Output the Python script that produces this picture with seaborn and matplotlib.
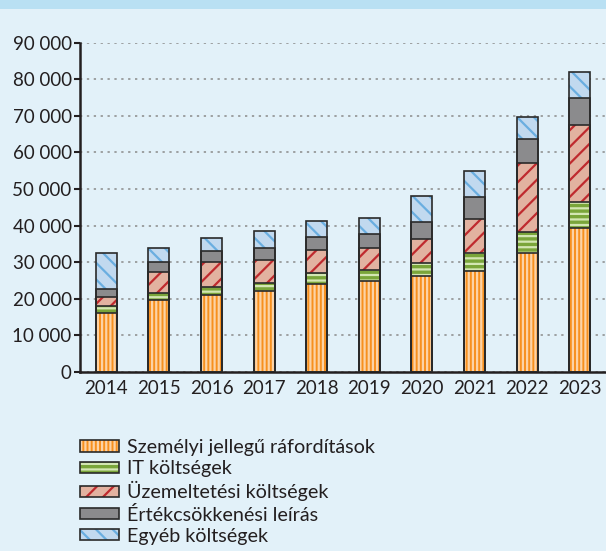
import numpy as np
import pandas as pd
import matplotlib.pyplot as plt
import seaborn as sns
from matplotlib.patches import Patch
from matplotlib.legend_handler import HandlerTuple
from matplotlib.ticker import FuncFormatter, MultipleLocator

# ===============================
# Data (million HUF)
# ===============================
years = ["2014", "2015", "2016", "2017", "2018", "2019", "2020", "2021", "2022", "2023"]
szemelyi = [16200, 19600, 21000, 22200, 24000, 24800, 26100, 27600, 32500, 39300]
it_koltseg = [1700, 1900, 2200, 2200, 3000, 3100, 3600, 4900, 5700, 7100]
uzemeltetes = [2700, 5900, 6900, 6200, 6400, 6100, 6600, 9400, 19000, 21100]
ertekcsokkenes = [2100, 2700, 3000, 3200, 3400, 3600, 4700, 5800, 6400, 7300]
egyeb = [9900, 3900, 3400, 4600, 4500, 4500, 7200, 7200, 6200, 7300]

labels = ["Személyi jellegű ráfordítások", "IT költségek", "Üzemeltetési költségek",
          "Értékcsökkenési leírás", "Egyéb költségek"]

df = pd.DataFrame({"year": years, labels[0]: szemelyi, labels[1]: it_koltseg,
                   labels[2]: uzemeltetes, labels[3]: ertekcsokkenes, labels[4]: egyeb})

# face colour, hatch colour, hatch pattern
styles = [
    ("#f7901e", "#fcd3a6", "||||"),
    ("#7aa53a", "#d3e6b3", "---"),
    ("#e2b2a0", "#bf2a2e", "//"),
    ("#8b8b8d", "#8b8b8d", ""),
    ("#c1d9ef", "#6aaee0", "\\\\"),
]
edge = "#2a2a2a"
text_color = "#231f20"
bg = "#e2f1f9"

# ===============================
# Style
# ===============================
sns.set_theme(style="white")
plt.rcParams["font.family"] = ["Lato", "DejaVu Sans"]
plt.rcParams["hatch.linewidth"] = 1.6
plt.rcParams["text.color"] = text_color
plt.rcParams["xtick.color"] = text_color
plt.rcParams["ytick.color"] = text_color

fig = plt.figure(figsize=(6.06, 5.51), dpi=100, facecolor=bg)
ax = fig.add_axes([0.132, 0.325, 0.868, 0.5975])
ax.set_facecolor(bg)

# top band
fig.patches.append(plt.Rectangle((0, 1 - 9 / 551), 1, 9 / 551, transform=fig.transFigure,
                                 facecolor="#b9e0f3", edgecolor="none", zorder=0))

# ===============================
# Stacked bars (cumulative, drawn top layer first)
# ===============================
cum = df[labels].cumsum(axis=1)
for i in range(len(labels) - 1, -1, -1):
    face, hcol, hatch = styles[i]
    sns.barplot(x=df["year"], y=cum[labels[i]], ax=ax, color=face, saturation=1,
                width=0.4, hatch=hatch, edgecolor=hcol, linewidth=0, zorder=2)
    sns.barplot(x=df["year"], y=cum[labels[i]], ax=ax, color=face, saturation=1,
                width=0.4, facecolor="none", edgecolor=edge, linewidth=1.2, zorder=3)

# ===============================
# Axes
# ===============================
ax.set_ylim(0, 90000)
ax.set_xlim(-0.5, len(years) - 0.5)
ax.set_xlabel("")
ax.set_ylabel("")
ax.yaxis.set_major_locator(MultipleLocator(10000))
ax.yaxis.set_major_formatter(FuncFormatter(lambda v, p: f"{int(v):,}".replace(",", " ")))
ax.yaxis.grid(True, color="#8a8a8a", linestyle=(0, (1.5, 3)), linewidth=1.1, zorder=0)
ax.set_axisbelow(True)

for s in ["top", "right"]:
    ax.spines[s].set_visible(False)
for s in ["left", "bottom"]:
    ax.spines[s].set_color(text_color)
    ax.spines[s].set_linewidth(1.8)

ax.set_xticks(np.arange(-0.5, len(years), 1.0), minor=True)
ax.tick_params(axis="x", which="major", length=0, labelsize=13.5, pad=6)
ax.tick_params(axis="x", which="minor", direction="out", length=4, width=1.5, color=text_color)
ax.tick_params(axis="y", direction="out", length=4, width=1.5, color=text_color,
               labelsize=13.5, pad=2, left=True)

# ===============================
# Legend
# ===============================
handles = []
for face, hcol, hatch in styles:
    handles.append((Patch(facecolor=face, edgecolor=hcol, hatch=hatch, linewidth=0),
                    Patch(facecolor="none", edgecolor=edge, linewidth=1.2)))
fig.legend(handles, labels, handler_map={tuple: HandlerTuple(ndivide=1)},
           loc="upper left", bbox_to_anchor=(80 / 606, 1 - 439 / 551), frameon=False,
           fontsize=14.2, handlelength=2.0, handleheight=0.5, handletextpad=0.4,
           labelspacing=0.21, borderpad=0, borderaxespad=0)

fig.savefig("out.png", dpi=100, facecolor=bg)
